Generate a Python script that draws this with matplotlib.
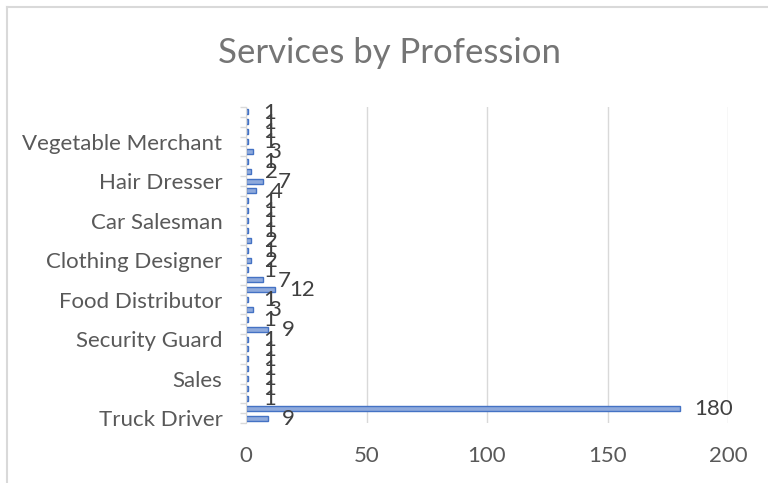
import matplotlib
matplotlib.use("Agg")
import matplotlib.pyplot as plt
from matplotlib.lines import Line2D
import numpy as np

# Data (bottom to top in the chart)
values = [9, 180, 1, 1, 1, 1, 1, 1, 1, 9, 1, 3, 1, 12, 7, 1,
          2, 1, 2, 1, 1, 1, 1, 4, 7, 2, 1, 3, 1, 1, 1, 1]
shown_labels = ["Truck Driver", "Sales", "Security Guard", "Food Distributor",
                "Clothing Designer", "Car Salesman", "Hair Dresser",
                "Vegetable Merchant"]
label_step = 4
x_ticks = [0, 50, 100, 150, 200]
title = "Services by Profession"

plt.rcParams['font.family'] = ['Lato', 'DejaVu Sans']

W, H = 768, 483
fig = plt.figure(figsize=(W / 100, H / 100), dpi=100)
fig.patch.set_facecolor("white")

# chart border (partially visible)
fig.add_artist(Line2D([7 / W, 7 / W], [0, 1 - 7 / H], color="#D9D9D9", lw=1.5,
                      transform=fig.transFigure))
fig.add_artist(Line2D([7 / W, 1], [1 - 7 / H, 1 - 7 / H], color="#D9D9D9", lw=1.5,
                      transform=fig.transFigure))

left, right = 246, 728
top, bottom = 107, 423
ax = fig.add_axes([left / W, 1 - bottom / H, (right - left) / W, (bottom - top) / H])

n = len(values)
pos = np.arange(n)
ax.barh(pos, values, height=0.5, color="#8FAADC", edgecolor="#4472C4", linewidth=1.0,
        zorder=3)

for p, v in zip(pos, values):
    ax.annotate(str(v), xy=(v, p), xytext=(10.5, -0.5), textcoords="offset points",
                ha="left", va="center", fontsize=16, color="#404040", zorder=4)

ax.set_xlim(0, 200)
ax.set_ylim(-0.5, n - 0.5)
ax.set_xticks(x_ticks)
ax.set_xticklabels([str(t) for t in x_ticks])
ax.tick_params(axis="x", length=0, pad=16.5, labelsize=16, labelcolor="#595959")

ax.set_yticks(pos[::label_step])
ax.set_yticklabels(shown_labels)
ax.set_yticks(np.arange(-0.5, n, 1.0), minor=True)
ax.tick_params(axis="y", which="major", length=0, pad=17, labelsize=16,
               labelcolor="#595959")
ax.tick_params(axis="y", which="minor", length=4, color="#D9D9D9", width=1)

ax.grid(axis="x", color="#D9D9D9", lw=1, zorder=0)
for s in ["top", "right", "bottom"]:
    ax.spines[s].set_visible(False)
ax.spines["left"].set_color("#D9D9D9")
ax.spines["left"].set_zorder(5)

fig.text(390 / W, 1 - 53 / H, title, ha="center", va="center", fontsize=25,
         color="#757575")

fig.savefig("out.png", dpi=100)
